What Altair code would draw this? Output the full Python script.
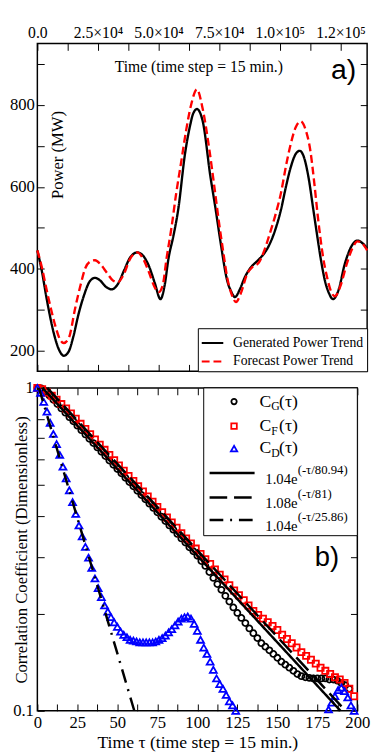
import altair as alt
import pandas as pd

SERIF = "Liberation Serif"
SANS = "Liberation Sans"
TICK = 7

# ---------------- Panel a) data ----------------
gen_t = [0, 2000, 3600, 5200, 6900, 8900, 10900, 12900, 14900, 17000,
         19000, 21800, 23800, 25800, 28300, 30700, 33100, 35900, 38300, 41200,
         43600, 46000, 48400, 50800, 52500, 54100, 56100, 58100, 60900, 63000,
         64200, 65800, 68200, 71400, 73400, 75500, 78300, 79900, 81500, 83500,
         85600, 87600, 91200, 93600, 95600, 98100, 100500, 102500, 104500, 106500,
         108200, 109800, 111800, 113800, 115400, 117000, 118600, 120300, 121900, 124300,
         126700, 129100, 132000, 134000, 136000]
gen_p = [445, 390, 335, 285, 240, 203, 188, 198, 236, 290,
         331, 371, 378, 372, 356, 350, 362, 398, 428, 440,
         432, 407, 366, 326, 360, 426, 480, 545, 681, 750,
         778, 790, 760, 624, 550, 467, 371, 345, 331, 350,
         380, 400, 422, 438, 458, 495, 545, 600, 648, 680,
         688, 675, 624, 545, 481, 420, 371, 340, 326, 350,
         410, 450, 469, 463, 450]
fc_t = [0, 2000, 3600, 5700, 7700, 9300, 10900, 12900, 15700, 17800,
        19800, 21800, 23800, 26200, 28700, 31100, 33100, 35500, 38300, 41200,
        43600, 46000, 48000, 50000, 51700, 53300, 55300, 57300, 59300, 61300,
        63400, 65800, 68200, 71000, 73000, 75100, 76700, 78300, 80300, 81900,
        83900, 86400, 88800, 91200, 93600, 95600, 98100, 100500, 102500, 104500,
        106500, 108600, 110600, 112600, 114200, 115800, 117800, 119500, 121100, 122700,
        125100, 127500, 129900, 132000, 134000, 136000]
fc_p = [445, 400, 355, 300, 255, 228, 219, 230, 307, 360,
        402, 418, 421, 410, 390, 372, 367, 385, 425, 440,
        425, 392, 360, 343, 360, 426, 500, 586, 660, 736,
        800, 838, 790, 688, 600, 505, 440, 379, 335, 319,
        340, 386, 405, 414, 445, 481, 530, 586, 650, 705,
        745, 760, 740, 688, 610, 521, 430, 379, 345, 333,
        360, 410, 450, 467, 462, 445]
series_names = ["Generated Power Trend", "Forecast Power Trend"]
series_colors = ["black", "red"]

a_x_ticks = [0, 12500, 25000, 37500, 50000, 62500, 75000, 87500, 100000, 112500, 125000]
a_x_label_values = [0, 25000, 50000, 75000, 100000, 125000]
a_x_label_texts = ["0.0", "2.5×10⁴", "5.0×10⁴", "7.5×10⁴", "1.0×10⁵", "1.2×10⁵"]
a_y_ticks = [200, 300, 400, 500, 600, 700, 800, 900]
a_x_title = "Time (time step = 15 min.)"
a_y_title = "Power (MW)"
a_tag = "a)"

# ---------------- Panel b) data ----------------
cg_tau = [0, 2.5, 5, 7.5, 10, 12.5, 15, 17.5, 20, 22.5, 25, 27.5, 30, 32.5, 35, 37.5, 40,
          42.5, 45, 47.5, 50, 52.5, 55, 57.5, 60, 62.5, 65, 67.5, 70, 72.5, 75, 77.5, 80,
          82.5, 85, 87.5, 90, 92.5, 95, 97.5, 100, 102.5, 105, 107.5, 110, 112.5, 115, 117.5,
          120, 122.5, 125, 127.5, 130, 132.5, 135, 137.5, 140, 142.5, 145, 147.5, 150, 152.5,
          155, 157.5, 160, 162.5, 165, 167.5, 170, 172.5, 175, 177.5, 180, 182.5, 185, 187.5,
          190, 192.5, 195]
cg_val = [1.000, 0.996, 0.978, 0.948, 0.919, 0.891, 0.864, 0.838, 0.812, 0.788, 0.764, 0.740,
          0.718, 0.696, 0.675, 0.654, 0.634, 0.615, 0.596, 0.578, 0.561, 0.544, 0.527, 0.511,
          0.496, 0.480, 0.466, 0.452, 0.438, 0.425, 0.412, 0.399, 0.387, 0.375, 0.364, 0.353,
          0.342, 0.332, 0.321, 0.312, 0.302, 0.291, 0.281, 0.269, 0.258, 0.247, 0.237, 0.227,
          0.218, 0.209, 0.201, 0.194, 0.187, 0.180, 0.174, 0.168, 0.162, 0.158, 0.154, 0.150,
          0.146, 0.142, 0.139, 0.136, 0.133, 0.130, 0.128, 0.127, 0.1265, 0.126, 0.126, 0.126,
          0.126, 0.125, 0.125, 0.124, 0.122, 0.120, 0.117]
cf_tau = [0, 3, 6, 9, 12, 15, 18, 21, 24, 27, 30, 33, 36, 39, 42, 45, 48, 51, 54, 57, 60,
          63, 66, 69, 72, 75, 78, 81, 84, 87, 90, 93, 96, 99, 102, 105, 108, 111, 114, 117,
          120, 123, 126, 129, 132, 135, 138, 141, 144, 147, 150, 153, 156, 159, 162, 165,
          168, 171, 174, 177, 180, 183, 186, 189, 192, 195, 198]
cf_val = [1.000, 0.991, 0.968, 0.946, 0.920, 0.891, 0.863, 0.833, 0.803, 0.774, 0.746, 0.719,
          0.692, 0.667, 0.643, 0.620, 0.597, 0.575, 0.554, 0.534, 0.515, 0.496, 0.478, 0.461,
          0.444, 0.428, 0.412, 0.397, 0.383, 0.369, 0.355, 0.342, 0.330, 0.318, 0.306, 0.295,
          0.285, 0.274, 0.264, 0.255, 0.245, 0.236, 0.228, 0.220, 0.212, 0.204, 0.198, 0.193,
          0.188, 0.183, 0.178, 0.172, 0.167, 0.162, 0.157, 0.152, 0.148, 0.144, 0.140, 0.136,
          0.133, 0.130, 0.127, 0.125, 0.122, 0.117, 0.111]
cd_tau = [0, 2, 4, 6, 8, 10, 12, 14, 16, 18, 20, 22, 24, 26, 28, 30, 32, 34, 36, 38, 40,
          42, 44, 46, 48, 50, 52, 54, 56, 58, 60, 62, 64, 66, 68, 70, 72, 74, 76, 78, 80,
          82, 84, 86, 88, 90, 92, 94, 96, 98, 100, 102, 104, 106, 108, 110, 112, 114, 116,
          118, 120, 122, 124,
          182, 184, 186, 188, 190, 192, 194, 196, 198]
cd_val = [1.000, 0.965, 0.905, 0.845, 0.780, 0.720, 0.670, 0.620, 0.570, 0.525, 0.482,
          0.443, 0.407, 0.375, 0.347, 0.322, 0.298, 0.277, 0.257, 0.240, 0.225, 0.212,
          0.203, 0.195, 0.188, 0.182, 0.176, 0.172, 0.169, 0.166, 0.165, 0.164, 0.163,
          0.163, 0.163, 0.163, 0.163, 0.164, 0.166, 0.168, 0.171, 0.175, 0.179, 0.184,
          0.189, 0.193, 0.195, 0.196, 0.193, 0.186, 0.177, 0.166, 0.157, 0.150, 0.142,
          0.134, 0.126, 0.121, 0.117, 0.112, 0.107, 0.104, 0.100,
          0.101, 0.106, 0.111, 0.116, 0.118, 0.115, 0.110, 0.104, 0.100]

fit_start_tau = [3.2, 6.2, 1.0]
fit_start_val = [1.0, 1.0, 1.0]
fit_end_tau = [189.5, 192.7, 60.6]
fit_end_val = [0.1, 0.1, 0.1]

b_x_ticks = [0, 12.5, 25, 37.5, 50, 62.5, 75, 87.5, 100, 112.5, 125, 137.5, 150, 162.5,
             175, 187.5, 200]
b_y_ticks = [0.1, 0.2, 0.3, 0.4, 0.5, 0.6, 0.7, 0.8, 1.0]
b_x_title = "Time τ (time step = 15 min.)"
b_y_title = "Correlation Coefficient (Dimensionless)"
b_tag = "b)"

leg_main = ["C", "C", "C", "1.04e", "1.08e", "1.04e"]
leg_sub = ["G", "F", "D"]
leg_paren = ["(τ)", "(τ)", "(τ)"]
leg_sup = ["(-τ/80.94)", "(-τ/81)", "(-τ/25.86)"]

# ---------------- helpers ----------------
TOP_W, TOP_H = 337, 335
BOT_W, BOT_H = 327, 330


def axis(orient, values, show_labels=True, label_expr=None, **kw):
    args = dict(orient=orient, values=values, domain=False, grid=False, ticks=True,
                tickSize=TICK, offset=-TICK, tickColor="black", tickWidth=1,
                labels=show_labels, labelFont=SERIF, labelColor="black",
                labelFlush=False, labelOverlap=False, title=None)
    if label_expr is not None:
        args["labelExpr"] = label_expr
    args.update(kw)
    return alt.Axis(**args)


def text_chart(txt, x, y, size, font=SERIF, angle=0, align="center", baseline="middle", color="black"):
    return alt.Chart(pd.DataFrame({"txt": [txt]})).mark_text(
        font=font, fontSize=size, angle=angle, align=align, baseline=baseline, color=color
    ).encode(x=alt.value(x), y=alt.value(y), text="txt:N")


# ---------------- Panel a ----------------
df_a = pd.DataFrame({
    "t": gen_t + fc_t,
    "p": gen_p + fc_p,
    "series": [series_names[0]] * len(gen_t) + [series_names[1]] * len(fc_t),
})
xa = alt.Scale(domain=[0, 136000], nice=False, zero=False)
ya = alt.Scale(domain=[150, 950], nice=False, zero=False)

a_top_expr = " : ".join(
    f"datum.value == {v} ? '{t}'" for v, t in zip(a_x_label_values, a_x_label_texts)
) + " : ''"

legend_a = alt.Legend(title=None, orient="bottom-right", offset=0, padding=3,
                      strokeColor="black", fillColor="white", labelFont=SERIF,
                      labelFontSize=14, labelColor="black", symbolType="stroke",
                      symbolSize=484, symbolStrokeWidth=2, labelOffset=9, rowPadding=0,
                      labelLimit=400)

lines_a = alt.Chart(df_a).mark_line(strokeWidth=2.4, interpolate="monotone").encode(
    x=alt.X("t:Q", scale=xa, axis=axis("bottom", a_x_ticks, show_labels=False)),
    y=alt.Y("p:Q", scale=ya, axis=axis("left", a_y_ticks,
                                        label_expr="datum.value % 200 == 0 ? datum.label : ''",
                                        labelFontSize=17, labelPadding=3)),
    color=alt.Color("series:N", scale=alt.Scale(domain=series_names, range=series_colors),
                    legend=legend_a),
    strokeDash=alt.StrokeDash("series:N",
                              scale=alt.Scale(domain=series_names, range=[[1, 0], [8, 4]]),
                              legend=legend_a),
)

axes_a = alt.Chart(df_a).mark_point(opacity=0, size=1).encode(
    x=alt.X("t:Q", scale=xa, axis=axis("top", a_x_ticks, label_expr=a_top_expr,
                                        labelFontSize=16, labelPadding=3)),
    y=alt.Y("p:Q", scale=ya, axis=axis("right", a_y_ticks, show_labels=False)),
)

top = alt.layer(
    lines_a, axes_a,
    text_chart(a_x_title, 165, 24, 16),
    text_chart(a_y_title, 21, 114, 17, angle=270),
    text_chart(a_tag, 313, 27, 29, font=SANS),
).properties(width=TOP_W, height=TOP_H).resolve_axis(x="independent", y="independent")

# ---------------- Panel b ----------------
xb = alt.Scale(domain=[0, 200], nice=False, zero=False)
yb = alt.Scale(type="log", domain=[0.1, 1], nice=False)

df_cg = pd.DataFrame({"tau": cg_tau, "c": cg_val})
df_cf = pd.DataFrame({"tau": cf_tau, "c": cf_val})
df_cd = pd.DataFrame({"tau": cd_tau, "c": cd_val})

SYM_SHAPES = ["circle", "square", "triangle-up"]
SYM_COLORS = ["black", "red", "blue"]
SYM_SIZES = [38, 40, 50]
SYM_SW = 1.8

circles = alt.Chart(df_cg).mark_point(shape=SYM_SHAPES[0], filled=False, color=SYM_COLORS[0],
                                      size=SYM_SIZES[0], strokeWidth=SYM_SW, opacity=1).encode(
    x=alt.X("tau:Q", scale=xb, axis=axis(
        "bottom", b_x_ticks,
        label_expr="datum.value % 25 == 0 ? format(datum.value, 'd') : ''",
        labelFontSize=17, labelPadding=4, title=b_x_title, titleFont=SERIF,
        titleFontSize=18, titleFontWeight="normal", titleColor="black", titlePadding=3)),
    y=alt.Y("c:Q", scale=yb, axis=axis(
        "left", b_y_ticks,
        label_expr="datum.value == 1 ? '1' : datum.value == 0.1 ? '0.1' : ''",
        labelFontSize=17, labelPadding=4, title=b_y_title, titleFont=SERIF,
        titleFontSize=17, titleFontWeight="normal", titleColor="black",
        titleX=-23, titleY=BOT_H / 2, titleAngle=270, titleBaseline="middle")),
)
squares = alt.Chart(df_cf).mark_point(shape=SYM_SHAPES[1], filled=False, color=SYM_COLORS[1],
                                      size=SYM_SIZES[1], strokeWidth=SYM_SW, opacity=1).encode(
    x=alt.X("tau:Q", scale=xb, axis=None), y=alt.Y("c:Q", scale=yb, axis=None))
triangles = alt.Chart(df_cd).mark_point(shape=SYM_SHAPES[2], filled=False, color=SYM_COLORS[2],
                                        size=SYM_SIZES[2], strokeWidth=SYM_SW, opacity=1).encode(
    x=alt.X("tau:Q", scale=xb, axis=None), y=alt.Y("c:Q", scale=yb, axis=None))

fit_dashes = [[1, 0], [18, 7], [14, 7, 2, 7]]
fit_layers = []
for i in range(3):
    dff = pd.DataFrame({"tau": [fit_start_tau[i], fit_end_tau[i]],
                        "c": [fit_start_val[i], fit_end_val[i]]})
    fit_layers.append(alt.Chart(dff).mark_line(color="black", strokeWidth=2.5,
                                               strokeDash=fit_dashes[i]).encode(
        x=alt.X("tau:Q", scale=xb, axis=None), y=alt.Y("c:Q", scale=yb, axis=None)))

axes_b = alt.Chart(df_cg).mark_point(opacity=0, size=1).encode(
    x=alt.X("tau:Q", scale=xb, axis=axis("top", b_x_ticks, show_labels=False)),
    y=alt.Y("c:Q", scale=yb, axis=axis("right", b_y_ticks, show_labels=False)),
)

# manual legend for panel b
one = pd.DataFrame({"k": [0]})
leg_box = alt.Chart(one).mark_rect(fill="white", stroke="black", strokeWidth=1).encode(
    x=alt.value(170), x2=alt.value(BOT_W), y=alt.value(0), y2=alt.value(151))
row_y = [14, 39, 62, 87, 112, 135]
leg_layers = [leg_box]
for i in range(3):
    leg_layers.append(alt.Chart(one).mark_point(shape=SYM_SHAPES[i], filled=False,
                                                color=SYM_COLORS[i], size=SYM_SIZES[i] - 8,
                                                strokeWidth=SYM_SW, opacity=1).encode(
        x=alt.value(201), y=alt.value(row_y[i])))
    leg_layers.append(text_chart(leg_main[i], 227, row_y[i], 18, align="left"))
    leg_layers.append(text_chart(leg_sub[i], 239, row_y[i] + 5, 12, align="left"))
    leg_layers.append(text_chart(leg_paren[i], 247, row_y[i], 18, align="left"))
for i in range(3):
    r = row_y[3 + i]
    leg_layers.append(alt.Chart(one).mark_rule(color="black", strokeWidth=2.5,
                                               strokeDash=fit_dashes[i]).encode(
        x=alt.value(176), x2=alt.value(222), y=alt.value(r)))
    leg_layers.append(text_chart(leg_main[3 + i], 233, r + 6, 15, align="left"))
    leg_layers.append(text_chart(leg_sup[i], 266, r - 3, 13, align="left"))

bottom = alt.layer(
    circles, squares, triangles, *fit_layers, axes_b, *leg_layers,
    text_chart(b_tag, 296, 174, 28, font=SANS),
).properties(width=BOT_W, height=BOT_H).resolve_axis(x="independent", y="independent")

chart = alt.vconcat(top, bottom, spacing=17, bounds="flush").resolve_scale(
    color="independent", strokeDash="independent"
).configure_view(stroke="black", strokeWidth=1.5).properties(
    padding={"left": 0, "top": 8, "right": 0, "bottom": 0}
)

chart.save("out.html", embed_options={"renderer": "svg", "actions": False})
